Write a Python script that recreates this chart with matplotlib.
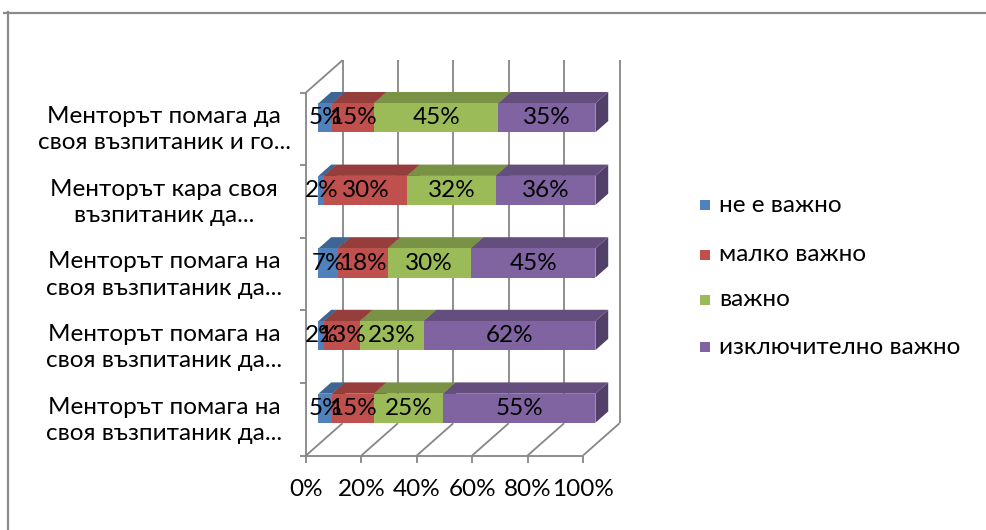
import matplotlib
matplotlib.use("Agg")
import matplotlib.pyplot as plt
from matplotlib.patches import Polygon, Rectangle
import numpy as np

plt.rcParams["font.family"] = ["Lato", "Open Sans", "DejaVu Sans"]

# data, listed top to bottom as shown
categories = [
    "Менторът помага да\nсвоя възпитаник и го...",
    "Менторът кара своя\nвъзпитаник да...",
    "Менторът помага на\nсвоя възпитаник да...",
    "Менторът помага на\nсвоя възпитаник да...",
    "Менторът помага на\nсвоя възпитаник да...",
]
series = ["не е важно", "малко важно", "важно", "изключително важно"]
not_important = [5, 2, 7, 2, 5]
little_important = [15, 30, 18, 13, 15]
important = [45, 32, 30, 23, 25]
very_important = [35, 36, 45, 62, 55]
ticks = [0, 20, 40, 60, 80, 100]
tick_labels = ["0%", "20%", "40%", "60%", "80%", "100%"]

colors = ["#4F81BD", "#C0504D", "#9BBB59", "#8064A2"]
grid_c = "#868686"
FS = 17.5

W, H = 986, 530
fig = plt.figure(figsize=(W / 100, H / 100), dpi=100)

# plot area: x in percent, y in category units, both linear in pixels
X0, SX = 306.0, 2.77          # px of 0% on the front plane, px per percent
Y0, SY = 455.5, 72.6          # px of the floor front edge, px per category
ax = fig.add_axes([0, 0, 1, 1])
ax.set_xlim(-X0 / SX, (W - X0) / SX)
ax.set_ylim((Y0 - H) / SY, Y0 / SY)
ax.axis("off")

# pseudo 3D depth of the plot box, and where the bars sit inside it
DX, DY = 13.2, 0.445
F0, F1 = 0.34, 0.69
BAR_H = 0.40
n = len(categories)

gl = dict(color=grid_c, lw=1.3, zorder=1, solid_capstyle="butt")
# back wall vertical gridlines and floor diagonals
for t in ticks:
    ax.plot([t + DX, t + DX], [DY, n + DY], **gl)
    ax.plot([t, t + DX], [0, DY], **gl)
    ax.plot([t, t], [0, -0.1], **gl)
# floor front edge
ax.plot([0, 100], [0, 0], **gl)
# left wall front edge, top diagonal and category ticks
ax.plot([0, 0], [0, n], **gl)
ax.plot([0, DX], [n, n + DY], **gl)
for k in range(n + 1):
    ax.plot([-2.2, 0], [k, k], **gl)

for t, lab in zip(ticks, tick_labels):
    ax.text(t, -0.47, lab, ha="center", va="center", fontsize=FS, color="black")


def shade(c, f):
    rgb = np.array(matplotlib.colors.to_rgb(c))
    return tuple(rgb * f)


values = np.array([not_important, little_important, important, very_important])
bdx, bdy = (F1 - F0) * DX, (F1 - F0) * DY
for i in range(n):
    yc = n - 1 - i + 0.5 + F0 * DY
    y_lo, y_hi = yc - BAR_H / 2, yc + BAR_H / 2
    left = F0 * DX
    for s in range(len(series)):
        v = values[s, i]
        a, b = left, left + v
        top = Polygon([(a, y_hi), (b, y_hi), (b + bdx, y_hi + bdy), (a + bdx, y_hi + bdy)],
                      closed=True, fc=shade(colors[s], 0.78), ec="none", zorder=3)
        side = Polygon([(b, y_lo), (b + bdx, y_lo + bdy), (b + bdx, y_hi + bdy), (b, y_hi)],
                       closed=True, fc=shade(colors[s], 0.64), ec="none", zorder=3)
        ax.add_patch(top)
        ax.add_patch(side)
        ax.barh(yc, v, left=a, height=BAR_H, color=colors[s], zorder=3)
        ax.text((a + b) / 2, yc, f"{v}%", ha="center", va="center",
                fontsize=FS, color="black", zorder=6)
        left = b

# overlay in pixel units for the frame, category labels and legend
lay = fig.add_axes([0, 0, 1, 1], facecolor="none")
lay.set_xlim(0, W)
lay.set_ylim(H, 0)
lay.axis("off")
lay.plot([4, W], [12.5, 12.5], color="#8a8a8a", lw=1.6)
lay.plot([7.5, 7.5], [12, H], color="#8a8a8a", lw=1.6)

for i, lab in enumerate(categories):
    y = Y0 - SY * (n - 1 - i + 0.5)
    lay.text(164, y + 1, lab, ha="center", va="center", multialignment="center",
             fontsize=FS, color="black", linespacing=1.3)

leg_y = [205, 254.5, 300, 347]
for s, name in enumerate(series):
    lay.add_patch(Rectangle((700, leg_y[s] - 5), 10, 10, fc=colors[s], ec="none"))
    lay.text(719, leg_y[s], name, ha="left", va="center", fontsize=FS, color="black")

fig.savefig("out.png", dpi=100)
